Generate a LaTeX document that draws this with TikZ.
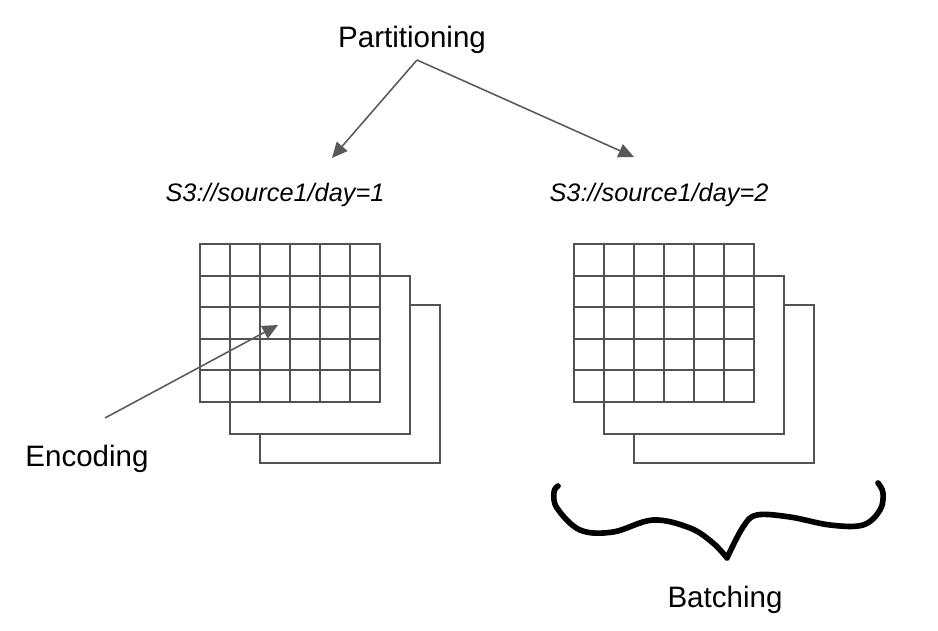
\documentclass[tikz,border=0pt]{standalone}
\usepackage{fontspec}
\setmainfont{Liberation Sans}
\usetikzlibrary{arrows.meta}
\tikzset{
  bigtext/.style={font=\fontsize{21}{24}\selectfont,anchor=base,inner sep=0pt},
  pathtext/.style={font=\fontsize{18}{21}\selectfont\itshape,anchor=base,inner sep=0pt},
  gridline/.style={draw=black!68,line width=1.35pt},
  pointer/.style={draw=black!65,line width=1.1pt,-{Triangle[length=11pt,width=10pt]}},
}

\begin{document}
\begin{tikzpicture}[x=0.025cm,y=-0.025cm]
    \useasboundingbox (0,0) rectangle (938,630);
    \node[bigtext] (part) at (412,48) {Partitioning};
    \coordinate (split) at (417,60);
    \node[pathtext] (day1) at (275,201) {S3://source1/day=1};
    \node[pathtext] (day2) at (659,201) {S3://source1/day=2};
    \coordinate (tip1) at (332,158);
    \coordinate (tip2) at (634,157);
    \draw[pointer] (split)--(tip1);
    \draw[pointer] (split)--(tip2);
    \foreach \dx/\n in {0/1,374/2} {
      \begin{scope}[shift={(\dx,0)}]
        \draw[gridline,fill=white] (260,305) rectangle (440,463);
        \draw[gridline,fill=white] (230,276) rectangle (410,434);
        \draw[gridline,fill=white] (200,244) rectangle (380,402);
        \foreach \x in {230,260,...,350} \draw[gridline] (\x,244)--(\x,402);
        \foreach \y in {275.6,307.2,338.8,370.4} \draw[gridline] (200,\y)--(380,\y);
        \coordinate (grid\n) at (290,323);
      \end{scope}
    }
    \node[bigtext] (enc) at (87,466) {Encoding};
    \coordinate (encstart) at (105,418);
    \coordinate (enctip) at (278,325);
    \draw[pointer] (encstart)--(enctip);
    \draw[line width=4pt,line cap=round,line join=round]
      plot[smooth,tension=0.6] coordinates {(558,486) (554,492) (557,508) (580,530) (613,532) (653,520) (690,528) (713,543) (727,558)}
      plot[smooth,tension=0.6] coordinates {(727,558) (743,527) (757,515) (790,517) (830,525) (863,525) (880,510) (883,493) (878,483)};
    \node[bigtext] (batch) at (725,607) {Batching};
  \end{tikzpicture}
\end{document}
